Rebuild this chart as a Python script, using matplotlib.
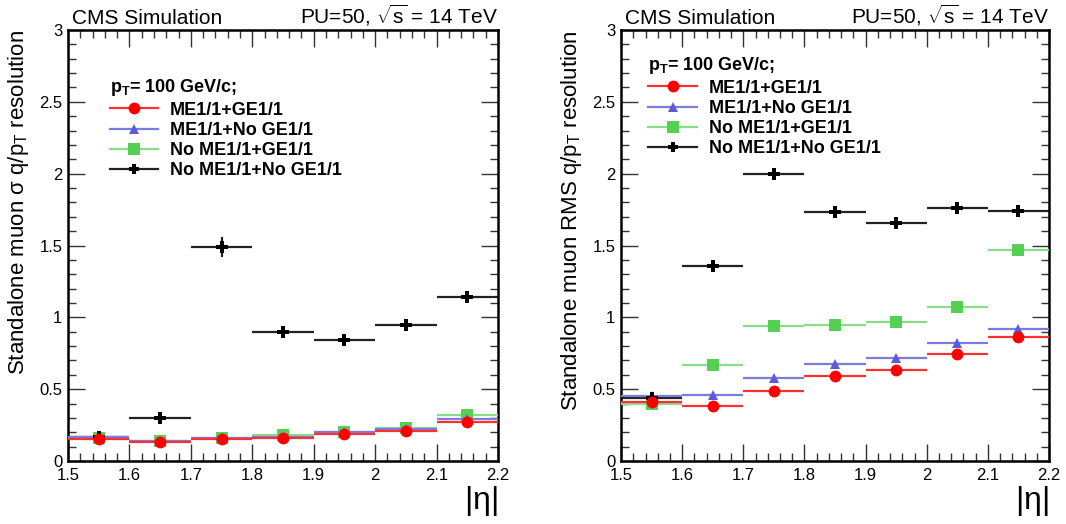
import matplotlib
matplotlib.use("Agg")
import matplotlib.pyplot as plt
from matplotlib.ticker import MultipleLocator, FixedLocator, FixedFormatter
from matplotlib.lines import Line2D

plt.rcParams['font.family'] = ['Liberation Sans', 'DejaVu Sans']
plt.rcParams['mathtext.fontset'] = 'custom'
plt.rcParams['mathtext.rm'] = 'Liberation Sans'
plt.rcParams['mathtext.it'] = 'Liberation Sans'
plt.rcParams['mathtext.bf'] = 'Liberation Sans:bold'

# |eta| bin centres and half-widths
eta = [1.55, 1.65, 1.75, 1.85, 1.95, 2.05, 2.15]
half_width = 0.05

labels = ["ME1/1+GE1/1", "ME1/1+No GE1/1", "No ME1/1+GE1/1", "No ME1/1+No GE1/1"]

# sigma of q/pT resolution (Gaussian fit width)
sigma_me_ge = [0.15, 0.13, 0.15, 0.16, 0.19, 0.21, 0.27]
sigma_me_noge = [0.17, 0.14, 0.16, 0.17, 0.20, 0.225, 0.29]
sigma_nome_ge = [0.16, 0.14, 0.16, 0.18, 0.20, 0.23, 0.32]
sigma_nome_noge = [0.17, 0.30, 1.49, 0.90, 0.84, 0.95, 1.14]
sigma_nome_noge_err = [0.02, 0.01, 0.07, 0.015, 0.015, 0.02, 0.04]

# RMS of q/pT resolution
rms_me_ge = [0.41, 0.385, 0.49, 0.59, 0.635, 0.745, 0.86]
rms_me_noge = [0.45, 0.46, 0.58, 0.675, 0.72, 0.82, 0.92]
rms_nome_ge = [0.40, 0.67, 0.94, 0.95, 0.97, 1.07, 1.47]
rms_nome_noge = [0.44, 1.36, 2.00, 1.73, 1.66, 1.76, 1.74]
rms_nome_noge_err = [0.01, 0.01, 0.01, 0.015, 0.01, 0.01, 0.01]

x_ticks = [1.5, 1.6, 1.7, 1.8, 1.9, 2.0, 2.1, 2.2]
x_tick_labels = ["1.5", "1.6", "1.7", "1.8", "1.9", "2", "2.1", "2.2"]
y_ticks = [0, 0.5, 1, 1.5, 2, 2.5, 3]
y_tick_labels = ["0", "0.5", "1", "1.5", "2", "2.5", "3"]

styles = [
    dict(color="#ff0000", marker="o", ms=8.5, line="#ff3030"),
    dict(color="#5b5bdc", marker="^", ms=7.5, line="#7b7be0"),
    dict(color="#55d055", marker="s", ms=8, line="#88dd88"),
    dict(color="#000000", marker="P", ms=8, line="#222222"),
]

fig = plt.figure(figsize=(10.66, 5.24), dpi=100)
ax1 = fig.add_axes([0.0638, 0.1202, 0.4034, 0.8225])
ax2 = fig.add_axes([0.5826, 0.1202, 0.4015, 0.8225])


def draw(ax, series, errs, ylabel, legend_anchor):
    handles = []
    # draw in order so red sits on top
    order = [3, 2, 1, 0]
    for i in order:
        st = styles[i]
        yerr = errs[i]
        ax.errorbar(eta, series[i], xerr=half_width, yerr=yerr, fmt="none",
                    ecolor=st["line"], elinewidth=1.6, capsize=0, zorder=2 + (3 - i))
        if st["marker"] == "P":
            ax.plot(eta, series[i], linestyle="none", marker="P", ms=st["ms"],
                    color="black", mew=0, zorder=6)
        else:
            ax.plot(eta, series[i], linestyle="none", marker=st["marker"],
                    ms=st["ms"], color=st["color"], mew=0, zorder=3 + (3 - i))
    for i in range(4):
        st = styles[i]
        handles.append(Line2D([0], [0], color=st["line"], lw=1.6,
                              marker=st["marker"], ms=st["ms"] if i < 3 else 7,
                              markerfacecolor=st["color"], markeredgewidth=0))
    ax.set_xlim(1.5, 2.2)
    ax.set_ylim(0, 3)
    ax.xaxis.set_major_locator(FixedLocator(x_ticks))
    ax.xaxis.set_major_formatter(FixedFormatter(x_tick_labels))
    ax.xaxis.set_minor_locator(MultipleLocator(0.02))
    ax.yaxis.set_major_locator(FixedLocator(y_ticks))
    ax.yaxis.set_major_formatter(FixedFormatter(y_tick_labels))
    ax.yaxis.set_minor_locator(MultipleLocator(0.1))
    ax.tick_params(which="both", direction="in", top=True, right=True,
                   labelsize=12, width=1.0, color="#333333")
    ax.tick_params(axis="x", which="major", length=12, pad=5)
    ax.tick_params(axis="y", which="major", length=12, pad=4)
    ax.tick_params(which="minor", length=6)
    for sp in ax.spines.values():
        sp.set_linewidth(1.8)
    ax.set_ylabel(ylabel, fontsize=16, loc="top", labelpad=6)
    ax.set_xlabel(r"$|\eta|$", fontsize=23, loc="right", labelpad=1)
    ax.text(0.01, 1.005, "CMS Simulation", transform=ax.transAxes,
            fontsize=15, ha="left", va="bottom")
    ax.text(1.0, 1.005, r"PU=50, $\sqrt{\rm s}$ = 14 TeV", transform=ax.transAxes,
            fontsize=15, ha="right", va="bottom")
    leg = ax.legend(handles, labels, loc="upper left", bbox_to_anchor=legend_anchor,
                    frameon=False, handlelength=2.7, handletextpad=0.65,
                    labelspacing=0.18, borderaxespad=0,
                    prop=dict(weight="bold", size=13),
                    title=r"$\mathbf{p_T}$= 100 GeV/c;",
                    title_fontproperties=dict(weight="bold", size=13))
    leg._legend_box.align = "left"


draw(ax1, [sigma_me_ge, sigma_me_noge, sigma_nome_ge, sigma_nome_noge],
     [0.005, 0.005, 0.005, sigma_nome_noge_err],
     r"Standalone muon $\sigma$ q/p$_{\rm T}$ resolution", (0.08, 0.907))
draw(ax2, [rms_me_ge, rms_me_noge, rms_nome_ge, rms_nome_noge],
     [0.005, 0.005, 0.005, rms_nome_noge_err],
     r"Standalone muon RMS q/p$_{\rm T}$ resolution", (0.047, 0.958))

fig.savefig("out.png", dpi=100, facecolor="white")
